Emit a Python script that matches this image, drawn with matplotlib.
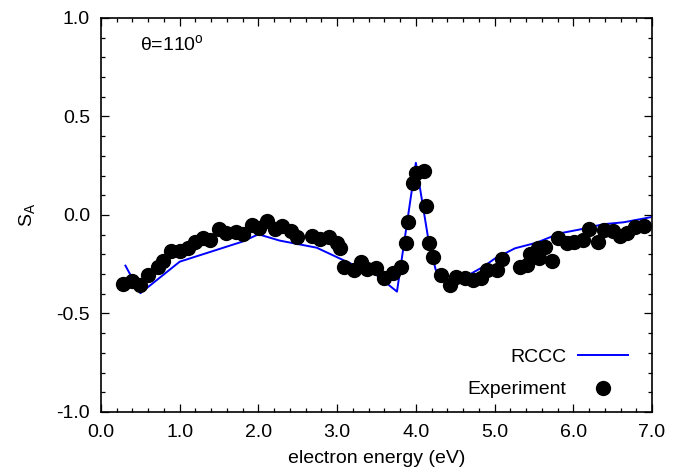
import numpy as np
import matplotlib
matplotlib.use("Agg")
import matplotlib.pyplot as plt
from matplotlib.ticker import MultipleLocator, FormatStrFormatter

plt.rcParams['font.family'] = ['Liberation Sans', 'DejaVu Sans']
plt.rcParams['mathtext.fontset'] = 'custom'
plt.rcParams['mathtext.rm'] = 'Liberation Sans'

# RCCC theory curve
rccc_e = [0.31, 0.50, 1.00, 1.79, 2.00, 2.27, 2.74, 3.12, 3.50, 3.76, 4.00,
          4.16, 4.25, 4.31, 4.45, 4.70, 4.86, 5.00, 5.26, 5.53, 5.83, 6.09,
          6.38, 6.64, 7.00]
rccc_s = [-0.257, -0.397, -0.237, -0.136, -0.098, -0.130, -0.166, -0.237,
          -0.305, -0.389, 0.265, -0.127, -0.275, -0.321, -0.335, -0.298,
          -0.262, -0.222, -0.169, -0.141, -0.093, -0.073, -0.047, -0.037,
          -0.010]

# experimental points
exp_e = [0.28, 0.40, 0.50, 0.60, 0.72, 0.79, 0.89, 1.00, 1.10, 1.19, 1.29,
         1.39, 1.50, 1.59, 1.71, 1.81, 1.92, 2.01, 2.11, 2.21, 2.30, 2.41,
         2.49, 2.68, 2.78, 2.90, 3.00, 3.03, 3.09, 3.21, 3.30, 3.38, 3.49,
         3.59, 3.71, 3.81, 3.87, 3.90, 3.96, 4.00, 4.10, 4.13, 4.17, 4.22,
         4.32, 4.43, 4.51, 4.63, 4.73, 4.83, 4.90, 5.03, 5.10, 5.32, 5.41,
         5.45, 5.55, 5.56, 5.64, 5.73, 5.81, 5.92, 6.01, 6.12, 6.20, 6.31,
         6.39, 6.50, 6.59, 6.68, 6.78, 6.90]
exp_s = [-0.352, -0.335, -0.357, -0.303, -0.262, -0.234, -0.183, -0.183,
         -0.166, -0.136, -0.118, -0.127, -0.070, -0.093, -0.088, -0.098,
         -0.051, -0.068, -0.032, -0.071, -0.054, -0.081, -0.113, -0.107,
         -0.123, -0.113, -0.144, -0.169, -0.265, -0.279, -0.240, -0.276,
         -0.268, -0.321, -0.293, -0.265, -0.141, -0.037, 0.161, 0.215,
         0.223, 0.046, -0.144, -0.215, -0.305, -0.355, -0.313, -0.321,
         -0.330, -0.321, -0.279, -0.279, -0.223, -0.265, -0.254, -0.199,
         -0.169, -0.217, -0.164, -0.234, -0.115, -0.141, -0.136, -0.127,
         -0.071, -0.136, -0.076, -0.080, -0.107, -0.090, -0.062, -0.056]

fig = plt.figure(figsize=(6.89, 4.71), dpi=100)
ax = fig.add_axes([0.1466, 0.1253, 0.7997, 0.8365])

ax.plot(rccc_e, rccc_s, color='#0000ff', lw=1.4, label='RCCC', zorder=2)
ax.plot(exp_e, exp_s, 'o', color='black', ms=10, label='Experiment', zorder=3)

ax.set_xlim(0, 7)
ax.set_ylim(-1, 1)
ax.xaxis.set_major_locator(MultipleLocator(1.0))
ax.xaxis.set_minor_locator(MultipleLocator(0.2))
ax.yaxis.set_major_locator(MultipleLocator(0.5))
ax.yaxis.set_minor_locator(MultipleLocator(0.1))
ax.xaxis.set_major_formatter(FormatStrFormatter('%.1f'))
ax.yaxis.set_major_formatter(FormatStrFormatter('%.1f'))
ax.tick_params(which='both', direction='in', top=True, right=True, labelsize=14)
ax.tick_params(axis='x', pad=9)
ax.tick_params(axis='y', pad=8)
ax.tick_params(which='major', length=6, width=0.9)
ax.tick_params(which='minor', length=3, width=0.9)
for sp in ax.spines.values():
    sp.set_linewidth(1.2)

ax.set_xlabel('electron energy (eV)', fontsize=14, labelpad=6)
ax.set_ylabel(r'S$_{\rm A}$', fontsize=14, labelpad=13)
ax.text(0.5, 0.865, r'θ=110$^{\rm o}$', fontsize=14, va='center')

ax.legend(loc='lower right', frameon=False, markerfirst=False, fontsize=14,
          handlelength=2.6, handletextpad=0.6, labelspacing=0.75,
          borderaxespad=0.3, bbox_to_anchor=(0.982, 0.0))

fig.savefig('out.png', dpi=100)
